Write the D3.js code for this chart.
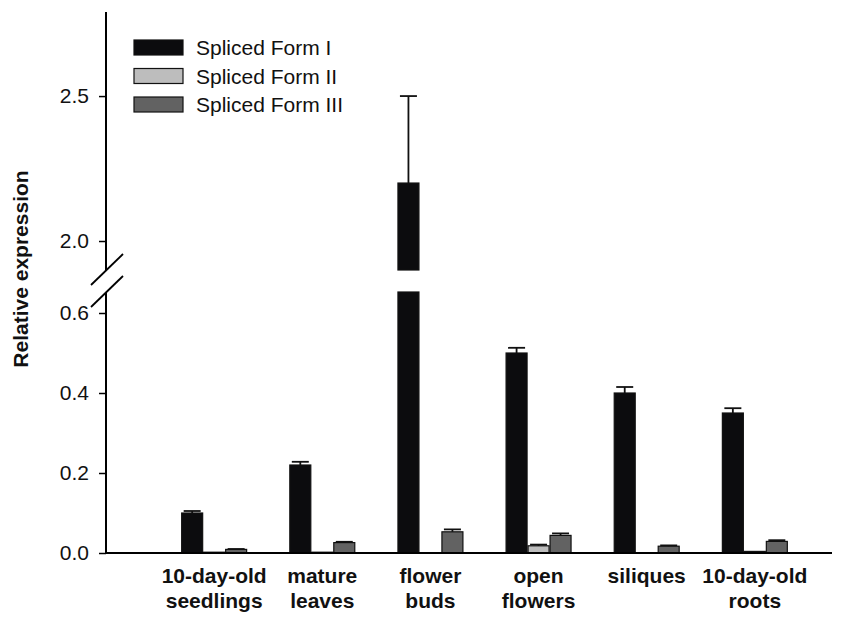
<!DOCTYPE html>
<html>
<head>
<meta charset="utf-8">
<script src="https://cdn.jsdelivr.net/npm/d3@7"></script>
<style>
  body { margin: 0; background: #fff; }
  svg { display: block; font-family: "Liberation Sans", Arial, sans-serif; }
</style>
</head>
<body>
<svg id="chart" width="854" height="617"></svg>
<script>
// Tissues (two-line labels) and the three spliced forms
const tissues = [
  ["10-day-old", "seedlings"],
  ["mature", "leaves"],
  ["flower", "buds"],
  ["open", "flowers"],
  ["siliques"],
  ["10-day-old", "roots"]
];
const forms = ["Spliced Form I", "Spliced Form II", "Spliced Form III"];

// Relative expression (mean) per tissue, one array per form
const formI   = [0.100, 0.220, 2.200, 0.500, 0.400, 0.350];
const formII  = [0.002, 0.002, 0.001, 0.018, 0.001, 0.004];
const formIII = [0.009, 0.026, 0.053, 0.044, 0.017, 0.029];

// Standard errors
const errI   = [0.005, 0.008, 0.300, 0.013, 0.015, 0.012];
const errII  = [0.000, 0.000, 0.000, 0.003, 0.000, 0.000];
const errIII = [0.001, 0.002, 0.006, 0.005, 0.002, 0.003];

// Y tick labels on each side of the axis break
const lowTicks  = [0.0, 0.2, 0.4, 0.6];
const highTicks = [2.0, 2.5];

const colors = ["#0c0c0e", "#bdbdbd", "#626262"];

const svg = d3.select("#chart");
const font = 21;

// Broken y axis: a lower segment and an upper segment
const axisX = 106;
const lowMax = 0.6525, highMin = 1.9;
const yLow  = d3.scaleLinear().domain([0, lowMax]).range([553, 292]);
const yHigh = d3.scaleLinear().domain([highMin, 2.79]).range([270, 12]);
const y = v => v <= lowMax ? yLow(v) : yHigh(Math.max(v, highMin));

const x0 = d3.scaleBand().domain(d3.range(tissues.length)).range([139, 830]).padding(0.39);
const x1 = d3.scaleBand().domain(d3.range(forms.length)).range([0, x0.bandwidth()]);

const series = [formI, formII, formIII];
const errors = [errI, errII, errIII];

const rows = [];
series.forEach((vals, s) => vals.forEach((v, i) => rows.push({ i, s, v, e: errors[s][i] })));

// Bars: values above the break get a lower and an upper piece
const bars = svg.append("g");
rows.forEach(d => {
  const bx = x0(d.i) + x1(d.s);
  const pieces = d.v > lowMax
    ? [[yLow(lowMax), yLow(0)], [yHigh(d.v), yHigh(highMin)]]
    : [[yLow(d.v), yLow(0)]];
  pieces.forEach(([top, bottom]) => {
    bars.append("rect")
      .attr("x", bx + 0.5)
      .attr("y", top)
      .attr("width", x1.bandwidth() - 1)
      .attr("height", Math.max(0.5, bottom - top))
      .attr("fill", colors[d.s])
      .attr("stroke", "#111")
      .attr("stroke-width", 1.2);
  });
});

// Upper error bars with caps
const err = svg.append("g").attr("stroke", "#111").attr("stroke-width", 1.8);
rows.filter(d => d.e > 0).forEach(d => {
  const cx = x0(d.i) + x1(d.s) + x1.bandwidth() / 2;
  const yt = y(d.v + d.e), yb = y(d.v);
  err.append("line").attr("x1", cx).attr("x2", cx).attr("y1", yt).attr("y2", yb);
  err.append("line").attr("x1", cx - 8.5).attr("x2", cx + 8.5).attr("y1", yt).attr("y2", yt);
});

// Y axis segments
function drawAxis(scale, ticks, extent) {
  const g = svg.append("g").attr("transform", `translate(${axisX},0)`)
    .call(d3.axisLeft(scale).tickValues(ticks).tickFormat(d3.format(".1f"))
      .tickSize(7).tickPadding(10).tickSizeOuter(0));
  g.select(".domain").remove();
  g.append("line").attr("x1", 0).attr("x2", 0)
    .attr("y1", extent[0]).attr("y2", extent[1])
    .attr("stroke", "#000").attr("stroke-width", 2);
  g.selectAll(".tick line").attr("stroke", "#000").attr("stroke-width", 1.5);
  g.selectAll(".tick text").attr("font-size", font).attr("fill", "#111")
    .attr("font-family", "Liberation Sans, Arial, sans-serif");
}
drawAxis(yLow, lowTicks, [yLow(lowMax), yLow(0) + 1]);
drawAxis(yHigh, highTicks, [yHigh(2.79), yHigh(highMin)]);

// Break marks crossing the axis
[yHigh(highMin), yLow(lowMax)].forEach(cy => {
  svg.append("line")
    .attr("x1", axisX - 15).attr("y1", cy + 15)
    .attr("x2", axisX + 17).attr("y2", cy - 16)
    .attr("stroke", "#000").attr("stroke-width", 1.8);
});

// X baseline
svg.append("line")
  .attr("x1", axisX - 1).attr("x2", 832)
  .attr("y1", yLow(0)).attr("y2", yLow(0))
  .attr("stroke", "#000").attr("stroke-width", 2);

// Tissue labels
const xl = svg.append("g").attr("font-weight", "bold").attr("font-size", font)
  .attr("fill", "#111").attr("text-anchor", "middle");
tissues.forEach((lines, i) => {
  const t = xl.append("text").attr("x", x0(i) + x0.bandwidth() / 2).attr("y", 583);
  lines.forEach((ln, k) => {
    t.append("tspan").attr("x", x0(i) + x0.bandwidth() / 2).attr("dy", k ? 25 : 0).text(ln);
  });
});

// Y axis title
svg.append("text")
  .attr("transform", "translate(28,269) rotate(-90)")
  .attr("text-anchor", "middle")
  .attr("font-weight", "bold")
  .attr("font-size", font)
  .attr("fill", "#111")
  .text("Relative expression");

// Legend
const lg = svg.append("g").attr("transform", "translate(134,40)");
forms.forEach((f, k) => {
  const row = lg.append("g").attr("transform", `translate(0,${k * 28.5})`);
  row.append("rect").attr("width", 49).attr("height", 15)
    .attr("fill", colors[k]).attr("stroke", "#111").attr("stroke-width", 1.2);
  row.append("text").attr("x", 62).attr("y", 15)
    .attr("font-size", font).attr("fill", "#111").text(f);
});
</script>
</body>
</html>
